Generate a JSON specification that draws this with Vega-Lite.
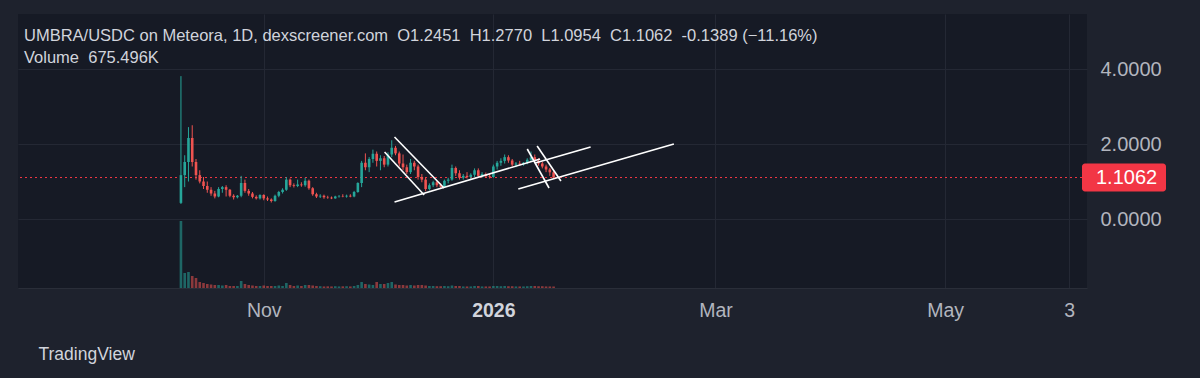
{
  "$schema": "https://vega.github.io/schema/vega-lite/v6.json",
  "width": 1069,
  "height": 274,
  "autosize": {"type": "none"},
  "padding": {"left": 18, "top": 14, "right": 113, "bottom": 90},
  "background": "#1e222d",
  "config": {
    "view": {"fill": "#161a25", "stroke": null},
    "font": "Liberation Sans"
  },
  "title": {
    "text": ["UMBRA/USDC on Meteora, 1D, dexscreener.com\u00a0\u00a0O1.2451\u00a0\u00a0H1.2770\u00a0\u00a0L1.0954\u00a0\u00a0C1.1062\u00a0\u00a0-0.1389 (−11.16%)", "Volume\u00a0\u00a0675.496K"],
    "anchor": "start",
    "frame": "group",
    "baseline": "top",
    "offset": -52,
    "dx": 6,
    "fontSize": 16.5,
    "fontWeight": "normal",
    "color": "#d1d4dc",
    "lineHeight": 22,
    "font": "Liberation Sans"
  },
  "datasets": {
    "candles": [
      {"date": "2025-10-10", "open": 0.43, "high": 3.81, "low": 0.40, "close": 1.17, "volume": 30150000},
      {"date": "2025-10-11", "open": 1.17, "high": 1.70, "low": 0.85, "close": 1.52, "volume": 6750000},
      {"date": "2025-10-12", "open": 1.52, "high": 2.45, "low": 1.00, "close": 2.16, "volume": 7200000},
      {"date": "2025-10-13", "open": 2.16, "high": 2.50, "low": 1.40, "close": 1.52, "volume": 5400000},
      {"date": "2025-10-14", "open": 1.52, "high": 1.60, "low": 1.05, "close": 1.17, "volume": 4500000},
      {"date": "2025-10-15", "open": 1.17, "high": 1.30, "low": 0.95, "close": 1.00, "volume": 2700000},
      {"date": "2025-10-16", "open": 1.00, "high": 1.12, "low": 0.80, "close": 0.88, "volume": 2250000},
      {"date": "2025-10-17", "open": 0.88, "high": 1.00, "low": 0.70, "close": 0.78, "volume": 1800000},
      {"date": "2025-10-18", "open": 0.78, "high": 0.85, "low": 0.62, "close": 0.68, "volume": 1575000},
      {"date": "2025-10-19", "open": 0.68, "high": 0.75, "low": 0.55, "close": 0.60, "volume": 1350000},
      {"date": "2025-10-20", "open": 0.60, "high": 0.85, "low": 0.58, "close": 0.80, "volume": 1350000},
      {"date": "2025-10-21", "open": 0.80, "high": 0.88, "low": 0.70, "close": 0.85, "volume": 1125000},
      {"date": "2025-10-22", "open": 0.85, "high": 0.90, "low": 0.60, "close": 0.78, "volume": 1350000},
      {"date": "2025-10-23", "open": 0.78, "high": 0.80, "low": 0.58, "close": 0.62, "volume": 900000},
      {"date": "2025-10-24", "open": 0.62, "high": 0.66, "low": 0.52, "close": 0.58, "volume": 900000},
      {"date": "2025-10-25", "open": 0.58, "high": 0.64, "low": 0.55, "close": 0.62, "volume": 900000},
      {"date": "2025-10-26", "open": 0.62, "high": 1.15, "low": 0.58, "close": 0.96, "volume": 3150000},
      {"date": "2025-10-27", "open": 0.96, "high": 1.05, "low": 0.70, "close": 0.75, "volume": 1800000},
      {"date": "2025-10-28", "open": 0.75, "high": 0.80, "low": 0.62, "close": 0.68, "volume": 1350000},
      {"date": "2025-10-29", "open": 0.68, "high": 0.72, "low": 0.55, "close": 0.59, "volume": 1125000},
      {"date": "2025-10-30", "open": 0.59, "high": 0.63, "low": 0.52, "close": 0.55, "volume": 900000},
      {"date": "2025-10-31", "open": 0.55, "high": 0.66, "low": 0.52, "close": 0.64, "volume": 900000},
      {"date": "2025-11-01", "open": 0.64, "high": 0.66, "low": 0.50, "close": 0.55, "volume": 1125000},
      {"date": "2025-11-02", "open": 0.55, "high": 0.60, "low": 0.48, "close": 0.52, "volume": 900000},
      {"date": "2025-11-03", "open": 0.52, "high": 0.55, "low": 0.44, "close": 0.48, "volume": 900000},
      {"date": "2025-11-04", "open": 0.48, "high": 0.65, "low": 0.46, "close": 0.62, "volume": 900000},
      {"date": "2025-11-05", "open": 0.62, "high": 0.75, "low": 0.58, "close": 0.72, "volume": 1125000},
      {"date": "2025-11-06", "open": 0.72, "high": 0.82, "low": 0.68, "close": 0.78, "volume": 900000},
      {"date": "2025-11-07", "open": 0.78, "high": 1.12, "low": 0.75, "close": 1.05, "volume": 2250000},
      {"date": "2025-11-08", "open": 1.05, "high": 1.08, "low": 0.85, "close": 0.90, "volume": 1350000},
      {"date": "2025-11-09", "open": 0.90, "high": 0.95, "low": 0.84, "close": 0.88, "volume": 900000},
      {"date": "2025-11-10", "open": 0.88, "high": 1.05, "low": 0.85, "close": 0.92, "volume": 1125000},
      {"date": "2025-11-11", "open": 0.92, "high": 0.98, "low": 0.86, "close": 0.90, "volume": 900000},
      {"date": "2025-11-12", "open": 0.90, "high": 1.10, "low": 0.86, "close": 1.02, "volume": 1350000},
      {"date": "2025-11-13", "open": 1.02, "high": 1.05, "low": 0.78, "close": 0.82, "volume": 1350000},
      {"date": "2025-11-14", "open": 0.82, "high": 0.85, "low": 0.62, "close": 0.66, "volume": 1125000},
      {"date": "2025-11-15", "open": 0.66, "high": 0.70, "low": 0.56, "close": 0.60, "volume": 900000},
      {"date": "2025-11-16", "open": 0.60, "high": 0.66, "low": 0.56, "close": 0.62, "volume": 800000},
      {"date": "2025-11-17", "open": 0.62, "high": 0.65, "low": 0.54, "close": 0.58, "volume": 700000},
      {"date": "2025-11-18", "open": 0.58, "high": 0.62, "low": 0.54, "close": 0.57, "volume": 750000},
      {"date": "2025-11-19", "open": 0.57, "high": 0.60, "low": 0.53, "close": 0.55, "volume": 700000},
      {"date": "2025-11-20", "open": 0.55, "high": 0.62, "low": 0.54, "close": 0.60, "volume": 800000},
      {"date": "2025-11-21", "open": 0.60, "high": 0.64, "low": 0.57, "close": 0.61, "volume": 700000},
      {"date": "2025-11-22", "open": 0.61, "high": 0.66, "low": 0.58, "close": 0.60, "volume": 750000},
      {"date": "2025-11-23", "open": 0.60, "high": 0.65, "low": 0.57, "close": 0.62, "volume": 800000},
      {"date": "2025-11-24", "open": 0.62, "high": 0.66, "low": 0.58, "close": 0.60, "volume": 700000},
      {"date": "2025-11-25", "open": 0.60, "high": 0.75, "low": 0.58, "close": 0.72, "volume": 900000},
      {"date": "2025-11-26", "open": 0.72, "high": 0.98, "low": 0.70, "close": 0.96, "volume": 1350000},
      {"date": "2025-11-27", "open": 0.96, "high": 1.55, "low": 0.85, "close": 1.50, "volume": 2700000},
      {"date": "2025-11-28", "open": 1.50, "high": 1.75, "low": 1.30, "close": 1.38, "volume": 1800000},
      {"date": "2025-11-29", "open": 1.38, "high": 1.65, "low": 1.25, "close": 1.60, "volume": 1575000},
      {"date": "2025-11-30", "open": 1.60, "high": 1.85, "low": 1.50, "close": 1.74, "volume": 1350000},
      {"date": "2025-12-01", "open": 1.74, "high": 1.80, "low": 1.40, "close": 1.55, "volume": 2700000},
      {"date": "2025-12-02", "open": 1.55, "high": 1.70, "low": 1.30, "close": 1.62, "volume": 1800000},
      {"date": "2025-12-03", "open": 1.62, "high": 1.68, "low": 1.38, "close": 1.45, "volume": 1800000},
      {"date": "2025-12-04", "open": 1.45, "high": 1.78, "low": 1.40, "close": 1.72, "volume": 2250000},
      {"date": "2025-12-05", "open": 1.72, "high": 2.10, "low": 1.65, "close": 1.90, "volume": 2700000},
      {"date": "2025-12-06", "open": 1.90, "high": 1.95, "low": 1.70, "close": 1.75, "volume": 1575000},
      {"date": "2025-12-07", "open": 1.75, "high": 1.80, "low": 1.40, "close": 1.48, "volume": 1350000},
      {"date": "2025-12-08", "open": 1.48, "high": 1.72, "low": 1.30, "close": 1.38, "volume": 1350000},
      {"date": "2025-12-09", "open": 1.38, "high": 1.45, "low": 1.20, "close": 1.25, "volume": 1125000},
      {"date": "2025-12-10", "open": 1.25, "high": 1.60, "low": 1.20, "close": 1.50, "volume": 1350000},
      {"date": "2025-12-11", "open": 1.50, "high": 1.55, "low": 1.30, "close": 1.40, "volume": 1125000},
      {"date": "2025-12-12", "open": 1.40, "high": 1.45, "low": 1.05, "close": 1.12, "volume": 1350000},
      {"date": "2025-12-13", "open": 1.12, "high": 1.20, "low": 0.98, "close": 1.05, "volume": 1350000},
      {"date": "2025-12-14", "open": 1.05, "high": 1.10, "low": 0.74, "close": 0.80, "volume": 1125000},
      {"date": "2025-12-15", "open": 0.80, "high": 0.95, "low": 0.76, "close": 0.90, "volume": 900000},
      {"date": "2025-12-16", "open": 0.90, "high": 1.02, "low": 0.85, "close": 0.98, "volume": 900000},
      {"date": "2025-12-17", "open": 0.98, "high": 1.02, "low": 0.85, "close": 0.90, "volume": 800000},
      {"date": "2025-12-18", "open": 0.90, "high": 0.95, "low": 0.82, "close": 0.86, "volume": 800000},
      {"date": "2025-12-19", "open": 0.86, "high": 1.05, "low": 0.84, "close": 1.02, "volume": 900000},
      {"date": "2025-12-20", "open": 1.02, "high": 1.10, "low": 0.95, "close": 1.05, "volume": 800000},
      {"date": "2025-12-21", "open": 1.05, "high": 1.45, "low": 1.02, "close": 1.36, "volume": 1125000},
      {"date": "2025-12-22", "open": 1.36, "high": 1.40, "low": 1.15, "close": 1.22, "volume": 900000},
      {"date": "2025-12-23", "open": 1.22, "high": 1.30, "low": 1.05, "close": 1.10, "volume": 900000},
      {"date": "2025-12-24", "open": 1.10, "high": 1.20, "low": 1.05, "close": 1.15, "volume": 700000},
      {"date": "2025-12-25", "open": 1.15, "high": 1.25, "low": 1.08, "close": 1.12, "volume": 700000},
      {"date": "2025-12-26", "open": 1.12, "high": 1.22, "low": 1.06, "close": 1.18, "volume": 700000},
      {"date": "2025-12-27", "open": 1.18, "high": 1.35, "low": 1.12, "close": 1.30, "volume": 900000},
      {"date": "2025-12-28", "open": 1.30, "high": 1.35, "low": 1.12, "close": 1.15, "volume": 900000},
      {"date": "2025-12-29", "open": 1.15, "high": 1.25, "low": 1.10, "close": 1.20, "volume": 700000},
      {"date": "2025-12-30", "open": 1.20, "high": 1.24, "low": 1.10, "close": 1.14, "volume": 700000},
      {"date": "2025-12-31", "open": 1.14, "high": 1.20, "low": 1.08, "close": 1.12, "volume": 700000},
      {"date": "2026-01-01", "open": 1.12, "high": 1.45, "low": 1.10, "close": 1.40, "volume": 900000},
      {"date": "2026-01-02", "open": 1.40, "high": 1.55, "low": 1.32, "close": 1.50, "volume": 900000},
      {"date": "2026-01-03", "open": 1.50, "high": 1.62, "low": 1.42, "close": 1.55, "volume": 800000},
      {"date": "2026-01-04", "open": 1.55, "high": 1.72, "low": 1.48, "close": 1.65, "volume": 900000},
      {"date": "2026-01-05", "open": 1.65, "high": 1.70, "low": 1.50, "close": 1.56, "volume": 800000},
      {"date": "2026-01-06", "open": 1.56, "high": 1.60, "low": 1.40, "close": 1.45, "volume": 800000},
      {"date": "2026-01-07", "open": 1.45, "high": 1.52, "low": 1.38, "close": 1.48, "volume": 700000},
      {"date": "2026-01-08", "open": 1.48, "high": 1.55, "low": 1.42, "close": 1.46, "volume": 700000},
      {"date": "2026-01-09", "open": 1.46, "high": 1.52, "low": 1.42, "close": 1.50, "volume": 700000},
      {"date": "2026-01-10", "open": 1.50, "high": 1.62, "low": 1.46, "close": 1.58, "volume": 800000},
      {"date": "2026-01-11", "open": 1.58, "high": 1.80, "low": 1.52, "close": 1.65, "volume": 900000},
      {"date": "2026-01-12", "open": 1.65, "high": 1.72, "low": 1.50, "close": 1.55, "volume": 900000},
      {"date": "2026-01-13", "open": 1.55, "high": 1.62, "low": 1.42, "close": 1.48, "volume": 800000},
      {"date": "2026-01-14", "open": 1.48, "high": 1.52, "low": 1.35, "close": 1.40, "volume": 800000},
      {"date": "2026-01-15", "open": 1.40, "high": 1.45, "low": 1.25, "close": 1.32, "volume": 700000},
      {"date": "2026-01-16", "open": 1.32, "high": 1.36, "low": 1.15, "close": 1.2451, "volume": 700000},
      {"date": "2026-01-17", "open": 1.2451, "high": 1.277, "low": 1.0954, "close": 1.1062, "volume": 675496}
    ],
    "drawings": [
      {"id": "A", "t": "2025-12-05T17:45:00Z", "price": 2.187},
      {"id": "A", "t": "2025-12-18T21:36:00Z", "price": 0.827},
      {"id": "B", "t": "2025-12-03T02:24:00Z", "price": 1.787},
      {"id": "B", "t": "2025-12-13T15:00:00Z", "price": 0.64},
      {"id": "C", "t": "2025-12-05T17:45:00Z", "price": 0.453},
      {"id": "C", "t": "2026-01-13T10:00:00Z", "price": 1.6},
      {"id": "D", "t": "2026-01-10T00:00:00Z", "price": 1.867},
      {"id": "D", "t": "2026-01-15T19:00:00Z", "price": 0.827},
      {"id": "E", "t": "2026-01-12T15:00:00Z", "price": 1.947},
      {"id": "E", "t": "2026-01-18T22:48:00Z", "price": 1.013},
      {"id": "F", "t": "2026-01-12T02:24:00Z", "price": 1.493},
      {"id": "F", "t": "2026-01-26T20:00:00Z", "price": 1.92},
      {"id": "G", "t": "2026-01-07T15:00:00Z", "price": 0.8},
      {"id": "G", "t": "2026-02-17T22:48:00Z", "price": 2.0}
    ],
    "lastPrice": [{"close": 1.1062}]
  },
  "layer": [
    {
      "data": {"name": "candles"},
      "mark": {"type": "bar", "width": 2.6, "opacity": 0.55},
      "encoding": {
        "x": {
          "field": "date", "type": "temporal", "title": "TradingView",
          "scale": {"type": "utc", "domain": [{"year": 2025, "month": 8, "date": 29, "hours": 1, "utc": true}, {"year": 2026, "month": 6, "date": 6, "hours": 9, "utc": true}]},
          "axis": {
            "values": [
              {"year": 2025, "month": 11, "date": 1, "utc": true},
              {"year": 2026, "month": 1, "date": 1, "utc": true},
              {"year": 2026, "month": 3, "date": 1, "utc": true},
              {"year": 2026, "month": 5, "date": 1, "utc": true},
              {"year": 2026, "month": 6, "date": 3, "utc": true}
            ],
            "labelExpr": "utcmonth(datum.value) == 0 ? '2026' : utcmonth(datum.value) == 5 ? '3' : utcFormat(datum.value, '%b')",
            "grid": true, "gridColor": "#242834", "gridWidth": 1,
            "domain": true, "domainColor": "#2a2e39",
            "ticks": false,
            "labelFontSize": 19.5,
            "labelColor": {"condition": {"test": "utcmonth(datum.value) == 0", "value": "#d1d4dc"}, "value": "#b2b5be"},
            "labelFontWeight": {"condition": {"test": "utcmonth(datum.value) == 0", "value": "bold"}, "value": "normal"},
            "labelPadding": 13,
            "labelOverlap": false,
            "labelFlush": false,
            "titleX": 20, "titleY": 71, "titleAlign": "left", "titleAnchor": "start", "titleBaseline": "alphabetic",
            "titleFontSize": 17.5, "titleFontWeight": "normal", "titleColor": "#d1d4dc"
          }
        },
        "y": {"field": "volume", "type": "quantitative", "scale": {"domain": [0, 123300000], "nice": false, "zero": true}, "axis": null},
        "color": {"condition": {"test": "datum.close >= datum.open", "value": "#26a69a"}, "value": "#ef5350"}
      }
    },
    {
      "layer": [
        {
          "data": {"name": "lastPrice"},
          "mark": {"type": "rule", "color": "#f23645", "strokeDash": [2, 3], "strokeWidth": 1},
          "encoding": {
            "y": {"field": "close", "type": "quantitative"}
          }
        },
        {
          "data": {"name": "candles"},
          "mark": {"type": "rule", "strokeWidth": 1},
          "encoding": {
            "x": {"field": "date", "type": "temporal", "title": "TradingView"},
            "y": {
              "field": "low", "type": "quantitative",
              "scale": {"domain": [-1.84, 5.4667], "nice": false, "zero": false},
              "axis": {
                "orient": "right", "values": [0, 2, 4], "format": ".4f", "title": null,
                "grid": true, "gridColor": "#242834", "domain": false, "ticks": false,
                "labelFontSize": 20, "labelColor": "#b2b5be", "labelPadding": 13
              }
            },
            "y2": {"field": "high"},
            "color": {"condition": {"test": "datum.close >= datum.open", "value": "#26a69a"}, "value": "#ef5350"}
          }
        },
        {
          "data": {"name": "candles"},
          "mark": {"type": "bar", "width": 2.6},
          "encoding": {
            "x": {"field": "date", "type": "temporal", "title": "TradingView"},
            "y": {"field": "open", "type": "quantitative"},
            "y2": {"field": "close"},
            "color": {"condition": {"test": "datum.close >= datum.open", "value": "#26a69a"}, "value": "#ef5350"}
          }
        },
        {
          "data": {"name": "drawings"},
          "mark": {"type": "line", "color": "#ffffff", "strokeWidth": 1.6},
          "encoding": {
            "x": {"field": "t", "type": "temporal", "title": "TradingView"},
            "y": {"field": "price", "type": "quantitative"},
            "detail": {"field": "id"}
          }
        },
        {
          "data": {"name": "lastPrice"},
          "mark": {"type": "rect", "color": "#f23645", "cornerRadius": 3, "x2Offset": 84, "yOffset": -14, "y2Offset": 14, "clip": false},
          "encoding": {
            "x": {"datum": {"year": 2026, "month": 6, "date": 6, "hours": 9, "utc": true}, "type": "temporal"},
            "x2": {"datum": {"year": 2026, "month": 6, "date": 6, "hours": 9, "utc": true}},
            "y": {"field": "close", "type": "quantitative"},
            "y2": {"field": "close"}
          }
        },
        {
          "data": {"name": "lastPrice"},
          "mark": {"type": "text", "color": "#ffffff", "align": "left", "baseline": "middle", "fontSize": 20, "xOffset": 14, "clip": false},
          "encoding": {
            "x": {"datum": {"year": 2026, "month": 6, "date": 6, "hours": 9, "utc": true}, "type": "temporal"},
            "y": {"field": "close", "type": "quantitative"},
            "text": {"field": "close", "type": "quantitative", "format": ".4f"}
          }
        }
      ]
    }
  ],
  "resolve": {"scale": {"y": "independent"}}
}
